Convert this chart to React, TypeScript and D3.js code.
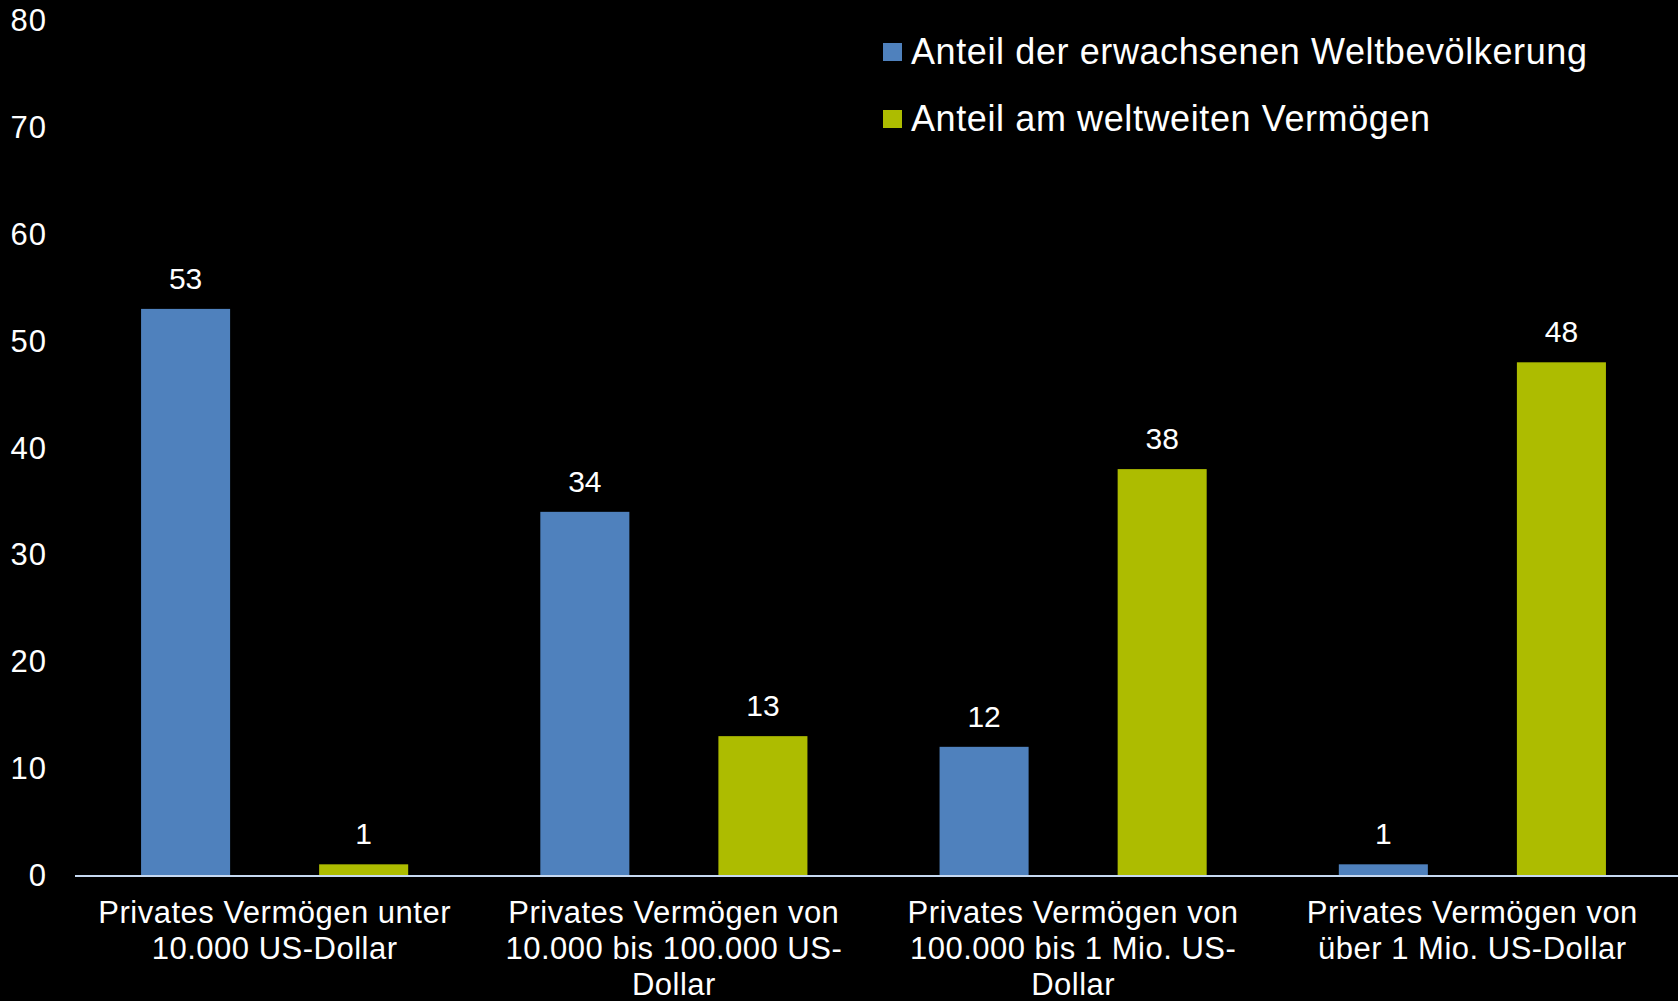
import React, { useEffect, useRef } from "react";
import * as d3 from "d3";

const categories = [
  ["Privates Vermögen unter", "10.000 US-Dollar"],
  ["Privates Vermögen von", "10.000 bis 100.000 US-", "Dollar"],
  ["Privates Vermögen von", "100.000 bis 1 Mio. US-", "Dollar"],
  ["Privates Vermögen von", "über 1 Mio. US-Dollar"],
];
const seriesNames = ["Anteil der erwachsenen Weltbevölkerung", "Anteil am weltweiten Vermögen"];
const populationShare = [53, 34, 12, 1];
const wealthShare = [1, 13, 38, 48];
const yTicks = [0, 10, 20, 30, 40, 50, 60, 70, 80];
const colors = ["#4f81bd", "#adbc00"];

const W = 1678;
const H = 1001;
const FONT = "'Liberation Sans', Arial, sans-serif";

export default function App() {
  const ref = useRef<SVGSVGElement | null>(null);
  useEffect(() => {
    const svg = d3.select(ref.current);
    svg.selectAll("*").remove();
    svg.append("rect").attr("width", W).attr("height", H).attr("fill", "#000");

    const keys = categories.map((_, i) => String(i));
    const x = d3.scaleBand<string>().domain(keys).range([75, 1672]).paddingInner(0).paddingOuter(0);
    const xs = d3
      .scaleBand<string>()
      .domain(["0", "1"])
      .range([0, x.bandwidth()])
      .paddingInner(0.5)
      .paddingOuter(0.371);
    const y = d3.scaleLinear().domain([0, 80]).range([875, 20.5]);

    // y tick labels
    svg
      .append("g")
      .selectAll("text")
      .data(yTicks)
      .join("text")
      .attr("x", 47)
      .attr("y", (d) => y(d))
      .attr("dy", "0.35em")
      .attr("text-anchor", "end")
      .attr("fill", "#fff")
      .attr("font-family", FONT)
      .attr("font-size", 31)
      .attr("letter-spacing", 1)
      .text((d) => String(d));

    const data = keys.map((k, i) => ({ k, vals: [populationShare[i], wealthShare[i]] }));
    const groups = svg
      .append("g")
      .selectAll("g")
      .data(data)
      .join("g")
      .attr("transform", (d) => `translate(${x(d.k)},0)`);

    groups
      .selectAll("rect")
      .data((d) => d.vals.map((v, s) => ({ v, s })))
      .join("rect")
      .attr("x", (d) => xs(String(d.s))!)
      .attr("width", xs.bandwidth())
      .attr("y", (d) => y(d.v))
      .attr("height", (d) => y(0) - y(d.v))
      .attr("fill", (d) => colors[d.s]);

    groups
      .selectAll("text.val")
      .data((d) => d.vals.map((v, s) => ({ v, s })))
      .join("text")
      .attr("class", "val")
      .attr("x", (d) => xs(String(d.s))! + xs.bandwidth() / 2)
      .attr("y", (d) => y(d.v) - 20)
      .attr("text-anchor", "middle")
      .attr("fill", "#fff")
      .attr("font-family", FONT)
      .attr("font-size", 30)
      .text((d) => String(d.v));

    // axis line
    svg
      .append("line")
      .attr("x1", 75)
      .attr("x2", W)
      .attr("y1", y(0) + 1)
      .attr("y2", y(0) + 1)
      .attr("stroke", "#c6d9f1")
      .attr("stroke-width", 2);

    // category labels
    const cl = svg
      .append("g")
      .selectAll("text")
      .data(keys)
      .join("text")
      .attr("x", (k) => x(k)! + x.bandwidth() / 2)
      .attr("y", 923)
      .attr("text-anchor", "middle")
      .attr("fill", "#fff")
      .attr("font-family", FONT)
      .attr("font-size", 31)
      .attr("letter-spacing", 0.5);
    cl.selectAll("tspan")
      .data((k) => categories[+k])
      .join("tspan")
      .attr("x", function () {
        const p = (this as SVGTSpanElement).parentNode as SVGTextElement;
        return p.getAttribute("x");
      })
      .attr("dy", (_, i) => (i === 0 ? 0 : 36))
      .text((t) => t);

    // legend
    const lg = svg
      .append("g")
      .selectAll("g")
      .data(seriesNames)
      .join("g")
      .attr("transform", (_, i) => `translate(883,${43 + i * 67})`);
    lg.append("rect").attr("width", 19).attr("height", 18).attr("fill", (_, i) => colors[i]);
    lg.append("text")
      .attr("x", 28)
      .attr("y", 21)
      .attr("fill", "#fff")
      .attr("font-family", FONT)
      .attr("font-size", 36)
      .attr("letter-spacing", 0.6)
      .text((d) => d);
  }, []);

  return (
    <svg
      ref={ref}
      width={W}
      height={H}
      style={{ position: "absolute", left: 0, top: 0, display: "block", background: "#000" }}
    />
  );
}
